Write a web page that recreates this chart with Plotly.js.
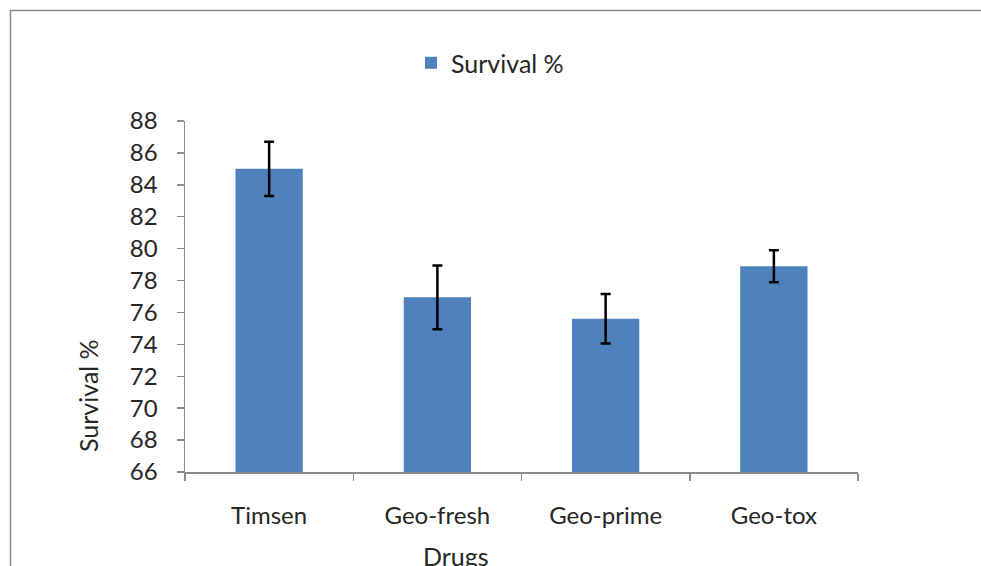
<!DOCTYPE html>
<html>
<head>
<meta charset="utf-8">
<script src="https://cdn.plot.ly/plotly-3.0.1.min.js"></script>
<style>html,body{margin:0;padding:0;background:#fff;}#chart{width:981px;height:566px;}</style>
</head>
<body>
<div id="chart"></div>
<script>
const drugs = ["Timsen", "Geo-fresh", "Geo-prime", "Geo-tox"];
const survival = [85.0, 76.95, 75.6, 78.9];
const errors = [1.7, 2.0, 1.55, 1.0];
const yTicks = [66, 68, 70, 72, 74, 76, 78, 80, 82, 84, 86, 88];

const W = 981, H = 566;
const L = 185, R = 123, T = 121, B = 94;
const pw = W - L - R, ph = H - T - B;
function px2x(p){ return (p - L) / pw; }
function py2y(p){ return (H - B - p) / ph; }

const font = "Lato, Open Sans, sans-serif";
const txt = "#262626";

const trace = {
  type: "bar",
  x: drugs,
  y: survival,
  name: "Survival %",
  marker: {color: "#4F81BD", line: {width: 0}},
  width: 0.4,
  error_y: {type: "data", array: errors, visible: true, color: "#000000", thickness: 2.5, width: 5}
};

const layout = {
  width: W, height: H,
  margin: {l: L, r: R, t: T, b: B, pad: 0},
  paper_bgcolor: "#ffffff",
  plot_bgcolor: "#ffffff",
  font: {family: font, size: 24, color: txt},
  showlegend: true,
  legend: {orientation: "h", x: px2x(411), y: py2y(63), xanchor: "left", yanchor: "middle",
           font: {family: font, size: 25, color: txt}, itemwidth: 30},
  xaxis: {
    type: "category",
    showgrid: false, zeroline: false,
    showline: true, linecolor: "#8c8c8c", linewidth: 1.5,
    ticks: "outside", ticklen: 7, tickcolor: "#8c8c8c", tickwidth: 1.5,
    tickson: "boundaries",
    ticklabelstandoff: 22,
    tickfont: {family: font, size: 24, color: txt}
  },
  yaxis: {
    range: [66, 88],
    tickvals: yTicks,
    showgrid: false, zeroline: false,
    showline: true, linecolor: "#8c8c8c", linewidth: 1.5,
    ticks: "outside", ticklen: 7, tickcolor: "#8c8c8c", tickwidth: 1.5,
    ticklabelstandoff: 14,
    tickfont: {family: font, size: 24, color: txt}
  },
  annotations: [
    {text: "Drugs", xref: "paper", yref: "paper", x: px2x(456), y: py2y(556),
     xanchor: "center", yanchor: "middle", showarrow: false, font: {family: font, size: 25, color: txt}},
    {text: "Survival %", xref: "paper", yref: "paper", x: px2x(88), y: py2y(396),
     xanchor: "center", yanchor: "middle", showarrow: false, textangle: -90, font: {family: font, size: 25, color: txt}}
  ],
  shapes: [
    {type: "rect", xref: "paper", yref: "paper", x0: px2x(10.5), x1: px2x(1000), y0: py2y(600), y1: py2y(10.5),
     line: {color: "#8a8a8a", width: 1.5}, fillcolor: "rgba(0,0,0,0)", layer: "below"}
  ]
};

Plotly.newPlot("chart", [trace], layout, {displayModeBar: false, staticPlot: true});
</script>
</body>
</html>
